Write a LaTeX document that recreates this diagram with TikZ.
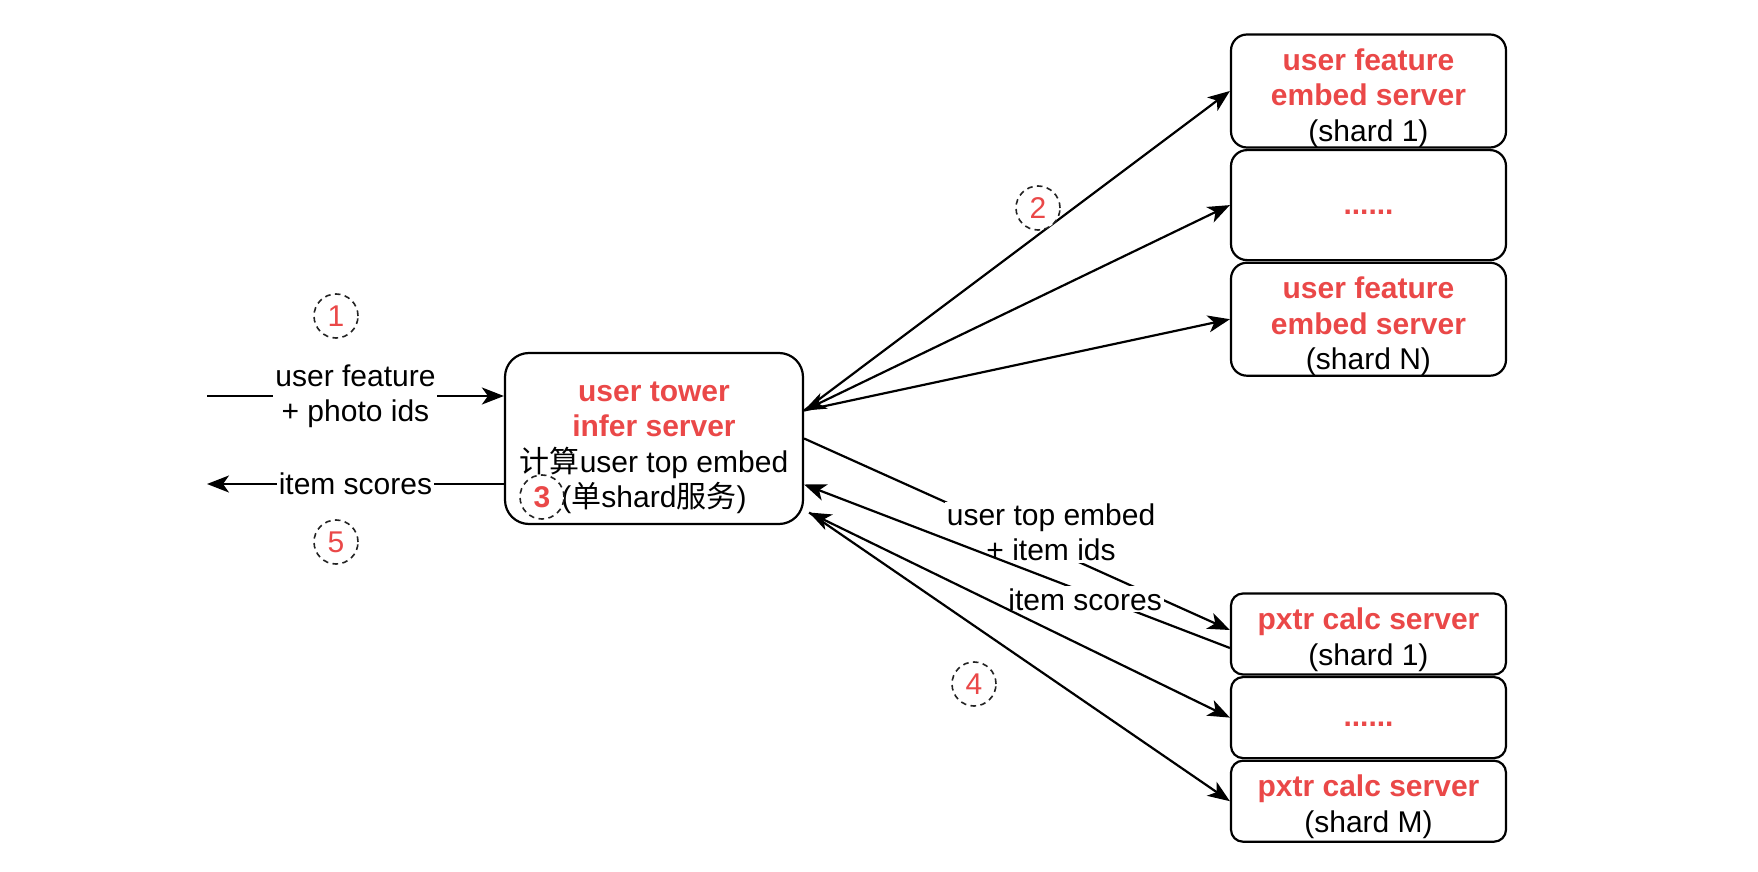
\documentclass[tikz,border=0pt]{standalone}
\usepackage{fontspec}
\setmainfont{Liberation Sans}
\newfontfamily\cjk{Noto Sans CJK SC}
\usetikzlibrary{arrows.meta,positioning,calc}
\definecolor{srvRed}{HTML}{EA4848}
\definecolor{ringInk}{HTML}{222222}
\newcommand\redb[1]{\textcolor{srvRed}{\bfseries #1}}
\newcommand\topgap[1]{\rule{0pt}{#1}}

\begin{document}
\begin{tikzpicture}[
  x=0.5pt,y=-0.5pt,
  font=\fontsize{15}{17.7}\selectfont,
  >={Stealth[length=11pt,width=8.5pt,inset=3pt]},
  srv/.style={draw,line width=1.1pt,rounded corners=#1,align=center,inner sep=0pt},
  topbox/.style={srv=8pt,minimum width=137.5pt,minimum height=55pt},
  botbox/.style={srv=6pt,minimum width=137.5pt,minimum height=40.5pt},
  arr/.style={->,line width=1.1pt},
  both/.style={<->,line width=1.1pt},
  lbl/.style={fill=white,inner sep=1pt,align=center},
  stepnum/.style={circle,draw=ringInk,dash pattern=on 2.8pt off 2.2pt,fill=white,minimum size=22pt,inner sep=0pt,text=srvRed,line width=0.8pt}
]
  \useasboundingbox (0,0) rectangle (1758,872);

  % central server
  \node[srv=12pt,minimum width=149pt,minimum height=85.5pt] (tower) at (654,438.5)
    {\topgap{19pt}\redb{user tower}\\\redb{infer server}\\{\cjk 计算}user top embed\\({\cjk 单}shard{\cjk 服务})};

  % embedding shards
  \node[topbox] (emb1) at (1368.5,91) {\topgap{18pt}\redb{user feature}\\\redb{embed server}\\(shard 1)};
  \node[topbox,below=0.2pt of emb1] (emb2) {\topgap{9pt}\redb{......}};
  \node[topbox,below=0.2pt of emb2] (embN) {\topgap{18pt}\redb{user feature}\\\redb{embed server}\\(shard N)};

  % pxtr shards
  \node[botbox] (pxtr1) at (1368.5,634) {\topgap{16.5pt}\redb{pxtr calc server}\\(shard 1)};
  \node[botbox,below=0.2pt of pxtr1] (pxtr2) {\topgap{9pt}\redb{......}};
  \node[botbox,below=0.2pt of pxtr2] (pxtrM) {\topgap{16.5pt}\redb{pxtr calc server}\\(shard M)};

  % request and response
  \coordinate (inL) at (207,396);
  \coordinate (outL) at (207,484);
  \draw[arr] (inL) -- node[lbl]{user feature\\+ photo ids} (tower.west |- inL);
  \draw[arr] (tower.west |- outL) -- node[lbl]{item scores} (outL);

  % fan out to embedding shards
  \coordinate (hub) at ([yshift=14pt]tower.east);
  \foreach \s/\t in {emb1/arr,emb2/both,embN/arr}
    \draw[\t] (hub) -- (\s.west);

  % fan out to pxtr shards
  \draw[arr] (tower.east) -- node[lbl,pos=0.58,yshift=8.5pt]{user top embed\\+ item ids} ([yshift=2pt]pxtr1.west);
  \draw[arr] ([yshift=-7pt]pxtr1.west) -- node[lbl,pos=0.34,yshift=-3.5pt]{item scores} ([yshift=-23pt]tower.east);
  \coordinate (hubB) at ([xshift=2.5pt,yshift=-37pt]tower.east);
  \draw[both] (hubB) -- (pxtr2.west);
  \draw[arr] (hubB) -- (pxtrM.west);

  % step markers
  \node[stepnum] (n1) at (336,316) {1};
  \node[stepnum] (n2) at (1038,208) {2};
  \node[stepnum,font=\fontsize{15}{17.7}\selectfont\bfseries] (n3) at (542,497) {3};
  \node[stepnum] (n4) at (974,684) {4};
  \node[stepnum] (n5) at (336,542) {5};
\end{tikzpicture}
\end{document}
